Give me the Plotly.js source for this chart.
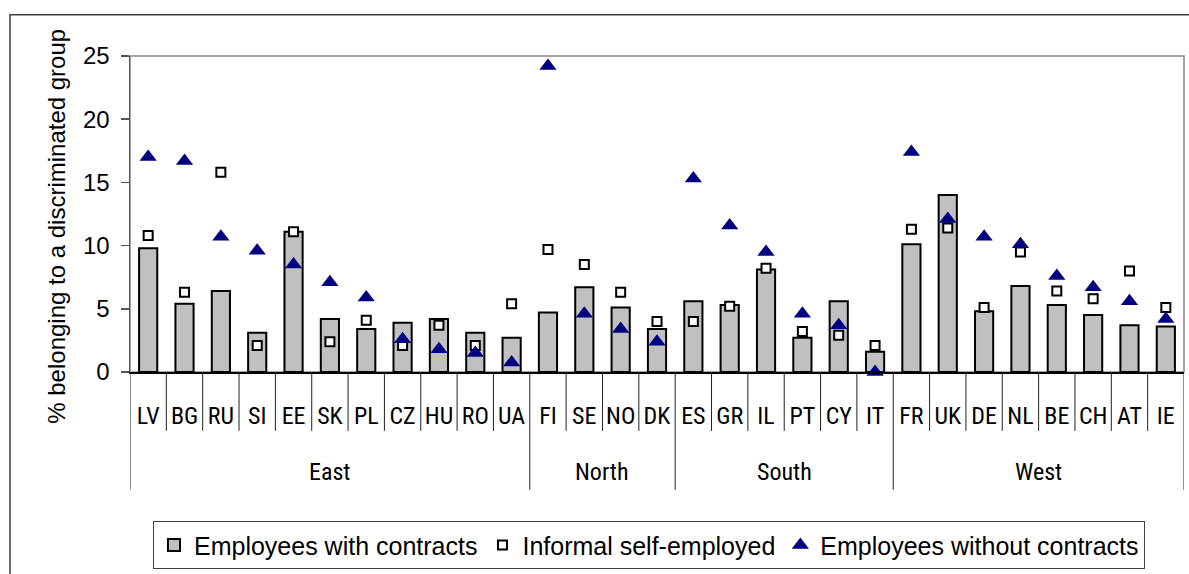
<!DOCTYPE html>
<html>
<head>
<meta charset="utf-8">
<script src="https://cdn.plot.ly/plotly-3.0.1.min.js"></script>
<style>
  html, body { margin: 0; padding: 0; background: #fff; }
  #chart { width: 1189px; height: 574px; }
</style>
</head>
<body>
<div id="chart"></div>
<script>
// ---- Data ----
const countries = ['LV','BG','RU','SI','EE','SK','PL','CZ','HU','RO','UA',
                   'FI','SE','NO','DK',
                   'ES','GR','IL','PT','CY','IT',
                   'FR','UK','DE','NL','BE','CH','AT','IE'];
const regions = ['East','East','East','East','East','East','East','East','East','East','East',
                 'North','North','North','North',
                 'South','South','South','South','South','South',
                 'West','West','West','West','West','West','West','West'];
const withContracts = [9.8,5.4,6.4,3.1,11.1,4.2,3.4,3.9,4.2,3.1,2.7,
                       4.7,6.7,5.1,3.4,
                       5.6,5.3,8.1,2.7,5.6,1.6,
                       10.1,14.0,4.8,6.8,5.3,4.5,3.7,3.6];
const informalSelf = [10.8,6.3,15.8,2.1,11.1,2.4,4.1,2.1,3.7,2.1,5.4,
                      9.7,8.5,6.3,4.0,
                      4.0,5.2,8.2,3.2,2.9,2.1,
                      11.3,11.4,5.1,9.5,6.4,5.8,8.0,5.1];
const withoutContracts = [17.0,16.7,10.7,9.6,8.5,7.1,5.9,2.6,1.8,1.5,0.75,
                          24.2,4.6,3.4,2.4,
                          15.3,11.6,9.5,4.6,3.7,0.0,
                          17.4,12.1,10.7,10.1,7.6,6.7,5.6,4.2];
const seriesNames = ['Employees with contracts','Informal self-employed','Employees without contracts'];
const yTicks = [0,5,10,15,20,25];
const yTitle = '% belonging to a discriminated group';

// ---- Layout helpers ----
const W = 1189, H = 574;
const M = {l: 130, r: 5, t: 56, b: 196};
const plotW = W - M.l - M.r, plotH = H - M.t - M.b;
const pxToPaperY = py => (H - M.b - py) / plotH;
const pxToPaperX = px => (px - M.l) / plotW;

const FONT = '"Liberation Sans", Arial, sans-serif';
const NARROW = '"Liberation Sans Narrow", "Arial Narrow", "Roboto Condensed", "Liberation Sans", Arial, sans-serif';

// Group spans derived from the regions array
const groups = [];
regions.forEach((r, i) => {
  if (!groups.length || groups[groups.length - 1].name !== r) groups.push({name: r, start: i, end: i});
  else groups[groups.length - 1].end = i;
});
const groupBoundaries = new Set([-0.5]);
groups.forEach(g => groupBoundaries.add(g.end + 0.5));

const shapes = [];
// plot-area frame (grey)
shapes.push({type: 'rect', xref: 'paper', yref: 'paper', x0: 0, x1: 1, y0: 0, y1: 1,
             line: {color: '#888888', width: 1.5}, layer: 'below'});
// outer chart border
shapes.push({type: 'rect', xref: 'paper', yref: 'paper',
             x0: pxToPaperX(10), x1: pxToPaperX(1195), y0: pxToPaperY(600), y1: pxToPaperY(14),
             line: {color: '#404040', width: 1.5}, layer: 'below'});
// category dividers
for (let i = 0; i <= countries.length; i++) {
  const b = i - 0.5;
  const isGroup = groupBoundaries.has(b);
  shapes.push({type: 'line', xref: 'x', yref: 'paper', x0: b, x1: b,
               y0: 0, y1: isGroup ? pxToPaperY(498) : pxToPaperY(438),
               line: {color: '#202020', width: 1}});
}

const annotations = groups.map(g => ({
  xref: 'x', yref: 'paper', x: (g.start + g.end) / 2, y: pxToPaperY(480),
  text: g.name, showarrow: false, xanchor: 'center', yanchor: 'middle',
  font: {family: NARROW, size: 24, color: '#000'}
}));
annotations.push({
  xref: 'paper', yref: 'paper', x: pxToPaperX(57), y: pxToPaperY(230),
  text: yTitle, textangle: -90, showarrow: false, xanchor: 'center', yanchor: 'middle',
  font: {family: FONT, size: 24, color: '#000'}
});

const traces = [
  {type: 'bar', name: seriesNames[0], x: countries, y: withContracts,
   marker: {color: '#C0C0C0', line: {color: '#000', width: 2}}},
  {type: 'scatter', mode: 'markers', name: seriesNames[1], x: countries, y: informalSelf,
   cliponaxis: false,
   marker: {symbol: 'square', size: 9, color: '#FFFFFF', line: {color: '#000', width: 2}}},
  {type: 'scatter', mode: 'markers', name: seriesNames[2], x: countries, y: withoutContracts,
   cliponaxis: false,
   marker: {symbol: 'triangle-up', size: 15, color: '#000080', line: {width: 0}}}
];

const layout = {
  width: W, height: H,
  margin: M,
  paper_bgcolor: '#fff', plot_bgcolor: '#fff',
  bargap: 0.5,
  showlegend: true,
  legend: {
    orientation: 'h', x: pxToPaperX(153), y: pxToPaperY(530), xanchor: 'left', yanchor: 'top',
    bordercolor: '#404040', borderwidth: 1, bgcolor: '#fff',
    font: {family: FONT, size: 25, color: '#000'},
    traceorder: 'normal'
  },
  xaxis: {
    type: 'category', range: [-0.5, countries.length - 0.5],
    showline: true, linecolor: '#000', linewidth: 1.5,
    ticks: '', showgrid: false, zeroline: false,
    tickfont: {family: NARROW, size: 24, color: '#000'},
    ticklabelstandoff: 22, automargin: false
  },
  yaxis: {
    range: [0, 25], tickvals: yTicks, ticktext: yTicks.map(String),
    showline: true, linecolor: '#555', linewidth: 1.5,
    ticks: 'outside', ticklen: 8, tickwidth: 1.5, tickcolor: '#555',
    showgrid: false, zeroline: false,
    tickfont: {family: FONT, size: 24, color: '#000'},
    ticklabelstandoff: 6, automargin: false
  },
  shapes: shapes,
  annotations: annotations
};

Plotly.newPlot('chart', traces, layout, {displayModeBar: false, staticPlot: true});
</script>
</body>
</html>
